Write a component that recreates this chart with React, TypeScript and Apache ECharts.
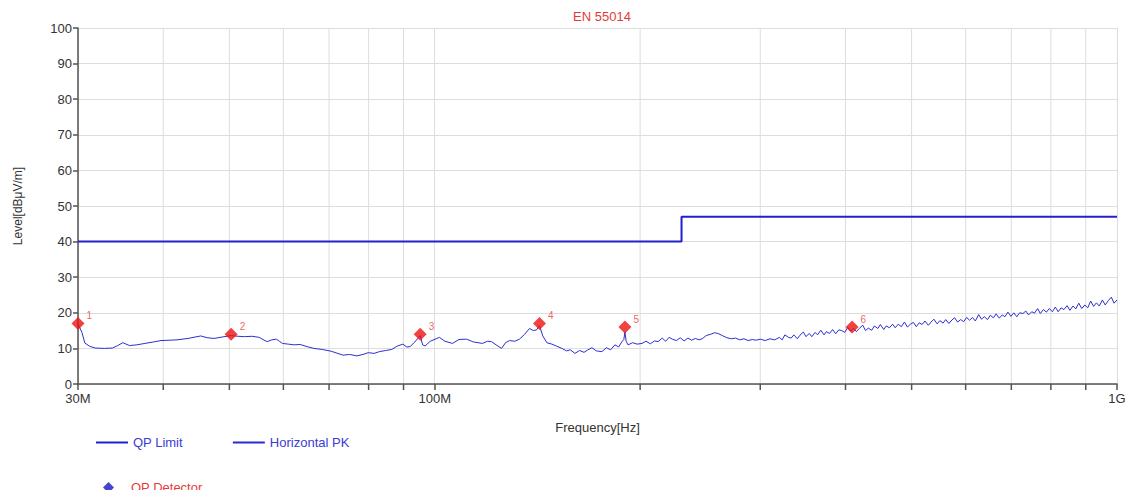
import React, { useEffect, useRef } from "react";
import * as echarts from "echarts";

// Frequencies in MHz
const limitFreq = [30, 230, 230, 1000];
const limitLevel = [40, 40, 47, 47];

const traceFreq = [
  30, 30.4, 30.7, 31.2, 31.8, 32.8, 33.7, 34.3, 34.9, 35.7, 36.6, 37.6, 38.7, 39.7, 40.8, 41.9, 43.5, 45.4, 46.4, 47.5,
  48.8, 50.3, 51.5, 52.6, 54.0, 55.3, 56.0, 56.8, 57.7, 58.6, 59.2, 59.8, 61.0, 62.2, 63.5, 65.0, 66.5, 68.4, 70.5, 73.4,
  75.0, 76.9, 78.5, 79.9, 81.5, 83.0, 84.7, 86.5, 88.0, 89.8, 91.0, 92.0, 93.5, 95.2, 96.0, 96.8, 98.5, 101.6, 103.5, 106.2,
  108.5, 111.3, 114.0, 117.5, 119.5, 121.1, 123.0, 125.3, 127.0, 128.7, 131.0, 133.1, 135.5, 137.7, 139.5, 141.0, 142.4, 144.0, 146.0, 148.5,
  151.0, 153.6, 156.0, 158.0, 160.5, 163.0, 165.5, 167.7, 170.0, 172.5, 175.8, 178.5, 181.0, 183.7, 186.0, 188.1, 189.3, 190.0, 190.8, 192.0,
  195.0, 198.0, 201.3, 204.0, 207.0, 210.0, 212.5, 215.5, 218.0, 220.5, 223.0, 226.0, 229.0, 232.0, 235.0, 238.0, 241.0, 244.0, 247.0, 250.0,
  254.0, 257.0, 260.0, 264.0, 268.0, 272.0, 276.0, 280.0, 284.0, 288.0, 292.0, 296.0, 300.0, 305.0, 310.0, 315.0,
  320, 323, 326, 330, 333, 336, 340, 343, 347, 350, 354, 357, 361, 364, 368, 372, 375, 379, 383, 387,
  391, 395, 399, 403, 407, 411, 415, 419, 424, 428, 432, 437, 441, 446, 450, 455, 459, 464, 469, 473,
  478, 483, 488, 493, 498, 503, 508, 513, 518, 523, 529, 534, 539, 545, 550, 556, 561, 567, 573, 578,
  584, 590, 596, 602, 608, 614, 620, 627, 633, 639, 646, 652, 659, 665, 672, 679, 685, 692, 699, 706,
  713, 720, 728, 735, 742, 750, 757, 765, 772, 780, 788, 796, 804, 812, 820, 828, 836, 845, 853, 862,
  870, 879, 888, 897, 906, 915, 924, 933, 942, 952, 961, 971, 981, 990, 1000,
];
const traceLevel = [
  16.9, 14.5, 11.5, 10.6, 10.1, 10.0, 10.1, 10.8, 11.6, 10.8, 11.0, 11.4, 11.8, 12.2, 12.3, 12.4, 12.8, 13.5, 13.0, 12.8,
  13.2, 13.6, 13.4, 13.3, 13.4, 13.1, 12.5, 11.9, 12.4, 12.6, 12.0, 11.4, 11.2, 11.0, 11.1, 10.5, 10.0, 9.7, 9.2, 8.1,
  8.3, 7.9, 8.3, 8.8, 8.6, 9.1, 9.4, 9.7, 10.6, 11.2, 10.4, 10.5, 11.8, 13.6, 11.0, 10.7, 12.0, 13.1, 12.0, 11.4,
  12.5, 12.6, 11.8, 11.4, 12.0, 11.9, 11.0, 10.0, 11.6, 12.2, 12.0, 12.6, 14.0, 15.6, 15.0, 15.2, 16.4, 13.5, 11.6, 11.2,
  10.6, 10.0, 9.3, 9.6, 8.6, 9.4, 8.9, 9.6, 10.2, 9.3, 9.1, 10.2, 9.6, 11.0, 10.4, 11.9, 12.5, 14.6, 12.0, 11.0,
  11.6, 11.2, 11.4, 12.0, 11.3, 12.1, 11.9, 12.9, 12.0, 13.1, 12.6, 12.2, 13.0, 12.1, 12.9, 12.3, 12.8, 12.4, 12.8, 13.6,
  14.0, 14.4, 14.2, 13.6, 13.0, 12.7, 12.9, 12.4, 12.7, 12.2, 12.5, 12.3, 12.6, 12.2, 12.7, 12.4,
  13.1, 12.4, 13.8, 13.1, 12.9, 13.8, 12.7, 13.7, 14.6, 13.3, 14.2, 13.3, 14.5, 13.8, 15.1, 13.8, 14.7, 14.2, 15.3, 14.1,
  15.2, 15.0, 14.5, 15.9, 14.8, 15.7, 14.7, 15.6, 16.5, 15.0, 15.7, 15.1, 16.3, 15.6, 16.7, 15.3, 16.3, 15.8, 16.8, 15.8,
  16.8, 16.1, 17.4, 16.0, 16.8, 17.3, 16.1, 17.2, 16.7, 17.7, 16.5, 17.4, 18.2, 16.9, 17.8, 17.1, 18.1, 17.0, 18.0, 18.6,
  17.4, 18.1, 17.5, 18.7, 17.9, 18.7, 17.7, 19.5, 18.2, 18.9, 18.1, 19.3, 18.6, 19.7, 18.5, 19.4, 18.9, 20.2, 19.0, 20.0,
  18.9, 20.0, 19.8, 20.5, 19.4, 20.3, 19.9, 21.2, 19.8, 20.9, 20.2, 21.2, 20.3, 21.6, 20.3, 21.4, 20.9, 22.0, 20.7, 21.9,
  21.1, 22.7, 21.2, 22.2, 21.4, 23.3, 21.8, 22.8, 21.9, 23.6, 22.2, 23.4, 24.4, 22.7, 23.6,
];

const detFreq = [30, 50.3, 95.2, 142.4, 190.0, 409];
const detLevel = [17, 14, 14, 17, 16, 16];

const minorGridFreq = [40, 50, 60, 70, 80, 90, 200, 300, 400, 500, 600, 700, 800, 900];

const FONT = "'Liberation Sans', Arial, sans-serif";

export default function App() {
  const ref = useRef<HTMLDivElement>(null);
  useEffect(() => {
    if (!ref.current) return;
    const chart = echarts.init(ref.current, undefined, { renderer: "svg" });
    const zip = (a: number[], b: number[]) => a.map((v, i) => [v, b[i]]);
    chart.setOption({
      animation: false,
      backgroundColor: "#ffffff",
      textStyle: { fontFamily: FONT },
      title: {
        text: "EN 55014",
        left: 597,
        textAlign: "center",
        top: 5,
        textStyle: { color: "#e43a3a", fontSize: 13, fontWeight: "normal", fontFamily: FONT },
      },
      legend: [
        {
          left: 91,
          top: 431,
          itemWidth: 32,
          itemHeight: 2,
          itemGap: 50,
          selectedMode: false,
          textStyle: { fontSize: 13, fontFamily: FONT },
          data: [
            { name: "QP Limit", icon: "rect", textStyle: { color: "#3b3bd6" } },
            { name: "Horizontal PK", icon: "rect", textStyle: { color: "#3b3bd6" } },
          ],
        },
        {
          left: 98,
          top: 476,
          itemWidth: 11,
          itemHeight: 11,
          selectedMode: false,
          textStyle: { fontSize: 13, fontFamily: FONT, padding: [0, 0, 0, 12] },
          data: [
            {
              name: "QP Detector",
              icon: "diamond",
              itemStyle: { color: "#1515c8", borderWidth: 0 },
              textStyle: { color: "#e83a3a" },
            },
          ],
        },
      ],
      grid: { left: 78, right: 18, top: 28, bottom: 114 },
      xAxis: {
        type: "log",
        logBase: 10,
        min: 30,
        max: 1000,
        name: "Frequency[Hz]",
        nameLocation: "middle",
        nameGap: 37,
        nameTextStyle: { color: "#333", fontSize: 13, fontFamily: FONT },
        axisLine: { lineStyle: { color: "#555", width: 1.5 } },
        axisTick: { show: true, length: 6, lineStyle: { color: "#555", width: 1.5 } },
        axisLabel: {
          color: "#333",
          fontSize: 13,
          margin: 8,
          showMinLabel: true,
          showMaxLabel: true,
          formatter: (v: number) => {
            const r = Math.round(v);
            return r >= 1000 ? r / 1000 + "G" : r + "M";
          },
        },
        splitLine: { show: true, lineStyle: { color: "#dddddd", width: 1 } },
      },
      yAxis: {
        type: "value",
        min: 0,
        max: 100,
        interval: 10,
        name: "Level[dBμV/m]",
        nameLocation: "middle",
        nameGap: 54,
        nameTextStyle: { color: "#333", fontSize: 12, fontFamily: FONT },
        axisLine: { show: true, lineStyle: { color: "#555", width: 1.5 } },
        axisTick: { show: true, length: 5, lineStyle: { color: "#555", width: 1.5 } },
        axisLabel: { color: "#333", fontSize: 13, margin: 6 },
        splitLine: { show: true, lineStyle: { color: "#dddddd", width: 1 } },
      },
      series: [
        {
          name: "grid",
          type: "custom",
          z: 0,
          silent: true,
          data: minorGridFreq.map((f) => [f, 0]),
          renderItem: (_p: any, api: any) => {
            const f = api.value(0);
            const b = api.coord([f, 0]);
            const t = api.coord([f, 100]);
            return {
              type: "group",
              children: [
                {
                  type: "line",
                  shape: { x1: b[0], y1: t[1], x2: b[0], y2: b[1] },
                  style: { stroke: "#dddddd", lineWidth: 1 },
                },
                {
                  type: "line",
                  shape: { x1: b[0], y1: b[1], x2: b[0], y2: b[1] + 6 },
                  style: { stroke: "#555", lineWidth: 1.5 },
                },
              ],
            };
          },
        },
        {
          name: "QP Limit",
          type: "line",
          z: 3,
          symbol: "none",
          color: "#2020cc",
          lineStyle: { color: "#2020cc", width: 2 },
          data: zip(limitFreq, limitLevel),
        },
        {
          name: "Horizontal PK",
          type: "line",
          z: 3,
          symbol: "none",
          color: "#2a2ad2",
          lineStyle: { color: "#2e2ed2", width: 1 },
          data: zip(traceFreq, traceLevel),
        },
        {
          name: "QP Detector",
          type: "scatter",
          z: 5,
          symbol: "diamond",
          symbolSize: 13,
          itemStyle: { color: "#ee1111" },
          label: {
            show: true,
            position: "right",
            offset: [-3, -8],
            color: "#e83a3a",
            fontSize: 10,
            formatter: (p: any) => String(p.dataIndex + 1),
          },
          data: zip(detFreq, detLevel),
        },
      ],
    });
    return () => chart.dispose();
  }, []);
  return <div ref={ref} style={{ width: 1135, height: 498, margin: -8 }} />;
}
